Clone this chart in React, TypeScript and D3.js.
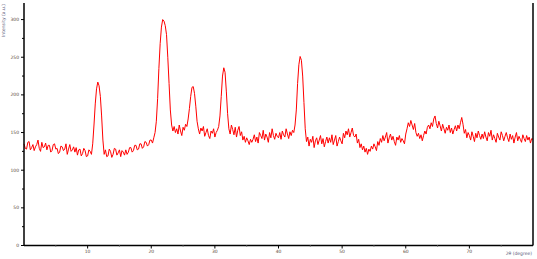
import React from "react";
import * as d3 from "d3";

const xTickValues = [10, 20, 30, 40, 50, 60, 70];
const xMinorTicks = [5, 15, 25, 35, 45, 55, 65, 75];
const yTickValues = [0, 50, 100, 150, 200, 250, 300];
const yMinorTicks = [25, 75, 125, 175, 225, 275];
const xStep = 0.2;
const intensity = [
  135,129,128,137,138,127,130,134,126,131,134,140,129,125,137,130,131,136,127,133,
  133,124,126,134,135,128,129,122,124,132,131,126,128,135,121,128,134,125,127,131,
  124,130,120,127,128,119,122,129,126,118,119,127,125,121,135,160,188,208,217,212,
  198,172,140,121,127,118,119,128,125,117,121,129,128,120,123,127,118,126,124,120,
  127,121,124,130,130,124,126,133,133,127,128,135,135,129,131,138,137,132,134,140,
  140,136,143,150,165,195,235,268,290,300,298,292,280,250,215,180,160,152,158,150,
  155,148,160,152,146,157,153,161,158,168,182,198,210,211,202,185,165,155,148,156,
  152,158,145,150,155,146,142,152,149,155,144,150,153,158,172,198,225,236,230,205,
  175,155,148,160,154,147,157,144,153,158,146,151,140,145,137,143,139,134,141,137,
  141,147,138,144,136,150,146,142,153,140,148,144,137,150,143,155,146,141,149,145,
  143,150,141,152,147,144,155,148,142,151,146,153,150,160,180,215,240,251,246,225,
  190,155,138,144,132,141,137,145,130,139,143,134,140,146,135,142,131,138,144,136,
  143,137,147,134,140,146,132,138,144,139,135,149,143,152,147,155,144,150,156,146,
  144,148,136,141,130,135,127,132,124,129,121,128,125,132,128,135,131,126,138,133,
  142,137,146,139,144,150,136,143,148,140,145,138,133,144,140,146,137,142,139,135,
  148,155,163,158,166,160,154,162,150,145,149,142,147,139,146,152,148,157,160,155,
  163,158,168,172,162,156,165,159,152,161,155,149,157,153,160,150,156,148,154,159,
  152,160,155,163,170,161,149,154,143,150,146,140,151,145,138,149,143,152,146,141,
  148,142,151,144,139,150,145,153,140,147,142,137,149,144,140,151,146,139,145,150,
  143,138,148,141,146,136,144,150,139,145,141,137,147,142,138,146,140,144,136,142,
  141,
];
const yTitle = "Intensity (a.u.)";
const xTitle = "2θ (degree)";

export default function App() {
  const W = 537, H = 259;
  const left = 24, right = 533, top = 3, bottom = 245.5;
  const x = d3.scaleLinear().domain([0, 80]).range([left, right]);
  const y = d3.scaleLinear().domain([0, 322]).range([bottom, top]);
  const pts: [number, number][] = intensity.map((v, i) => [i * xStep, v]);
  const line = d3.line<[number, number]>().x(d => x(d[0])).y(d => y(d[1]));
  return (
    <svg width={W} height={H} style={{ position: "absolute", left: 0, top: 0 }}>
      <rect width={W} height={H} fill="#fff" />
      <path d={line(pts) || ""} fill="none" stroke="#ff0000" strokeWidth={1} />
      <line x1={left} x2={left} y1={top} y2={bottom} stroke="#000" strokeWidth={1.5} />
      <line x1={right} x2={right} y1={top} y2={bottom} stroke="#000" strokeWidth={1.5} />
      <line x1={left} x2={right} y1={bottom} y2={bottom} stroke="#000" strokeWidth={1.5} />
      {yTickValues.map(v => (
        <g key={"y" + v}>
          <line x1={left - 3} x2={left} y1={y(v)} y2={y(v)} stroke="#000" strokeWidth={1} />
          <text x={left - 5} y={y(v) + 1.5} fontSize={4.5} textAnchor="end" fill="#5a4a3a" fontFamily="DejaVu Sans">{v}</text>
        </g>
      ))}
      {yMinorTicks.map(v => (
        <line key={"ym" + v} x1={left - 2} x2={left} y1={y(v)} y2={y(v)} stroke="#000" strokeWidth={1} />
      ))}
      {xTickValues.map(v => (
        <g key={"x" + v}>
          <line x1={x(v)} x2={x(v)} y1={bottom} y2={bottom + 3} stroke="#000" strokeWidth={1} />
          <text x={x(v)} y={bottom + 7.5} fontSize={4.5} textAnchor="middle" fill="#5a4a3a" fontFamily="DejaVu Sans">{v}</text>
        </g>
      ))}
      {xMinorTicks.map(v => (
        <line key={"xm" + v} x1={x(v)} x2={x(v)} y1={bottom} y2={bottom + 1.5} stroke="#888" strokeWidth={1} />
      ))}
      <text transform="translate(5,4) rotate(-90)" fontSize={4.5} textAnchor="end" fill="#5a5a7a" fontFamily="DejaVu Sans">{yTitle}</text>
      <text x={532} y={255} fontSize={4.5} textAnchor="end" fill="#5a5a7a" fontFamily="DejaVu Sans">{xTitle}</text>
    </svg>
  );
}
